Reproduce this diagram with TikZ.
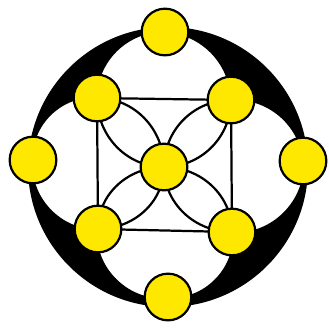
\documentclass[tikz,border=0pt]{standalone}
\usetikzlibrary{backgrounds}
\definecolor{ballyellow}{RGB}{255,232,0}
\begin{document}
\begin{tikzpicture}[x=0.03cm,y=0.03cm,
  ball/.style={circle,draw=black,line width=1.9pt,fill=ballyellow,minimum size=1.40cm,inner sep=0pt,outer sep=0pt},
  edge/.style={draw=black,line width=1.9pt}]
\useasboundingbox (0,0) rectangle (329,-327);
\node[ball] (N)  at (165,-32)  {};
\node[ball] (E)  at (303,-161) {};
\node[ball] (S)  at (168,-297) {};
\node[ball] (W)  at (33,-160)  {};
\node[ball] (TL) at (97,-98)   {};
\node[ball] (TR) at (231,-100) {};
\node[ball] (BL) at (98,-229)  {};
\node[ball] (BR) at (232,-232) {};
\node[ball] (C)  at (164,-167) {};
\begin{scope}[on background layer]
\fill[black,even odd rule] (168,-167) circle (140)
  (N.center) to[bend left=41] (TR.center) to[bend left=43] (E.center)
  to[bend left=50] (BR.center) to[bend left=52] (S.center)
  to[bend left=54] (BL.center) to[bend left=49] (W.center)
  to[bend left=49] (TL.center) to[bend left=45] (N.center) -- cycle;
\draw[edge] (TL.center) -- (TR.center) -- (BR.center) -- (BL.center) -- cycle;
\draw[edge] (TL.center) to[out=-90,in=180] (C.center);
\draw[edge] (TL.center) to[out=0,in=90] (C.center);
\draw[edge] (TR.center) to[out=-90,in=0] (C.center);
\draw[edge] (TR.center) to[out=180,in=90] (C.center);
\draw[edge] (BL.center) to[out=90,in=180] (C.center);
\draw[edge] (BL.center) to[out=0,in=-90] (C.center);
\draw[edge] (BR.center) to[out=90,in=0] (C.center);
\draw[edge] (BR.center) to[out=180,in=-90] (C.center);
\end{scope}
\end{tikzpicture}
\end{document}
